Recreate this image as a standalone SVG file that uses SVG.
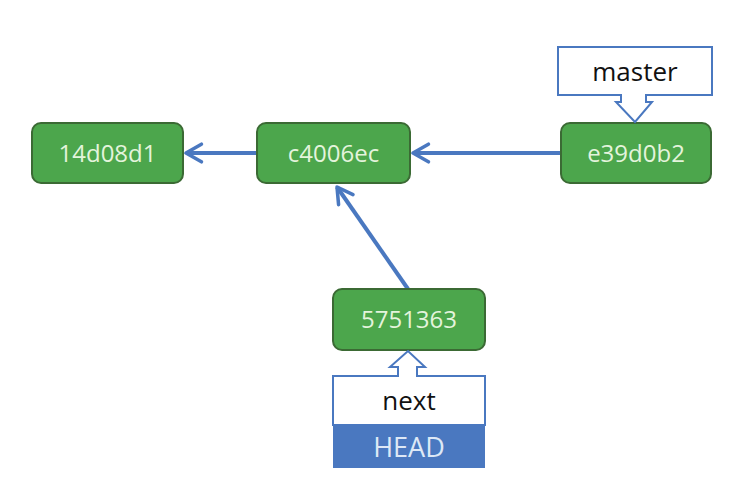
<svg xmlns="http://www.w3.org/2000/svg" width="746" height="498" viewBox="0 0 746 498">
<defs>
<marker id="arr" viewBox="0 0 20 20" refX="17" refY="10" markerWidth="5.5" markerHeight="5.5" orient="auto" markerUnits="strokeWidth">
<path d="M3,2 L17,10 L3,18" fill="none" stroke="#4a78c0" stroke-width="3.2" stroke-linecap="round" stroke-linejoin="round"/>
</marker>
</defs>
<style>
.commit rect{fill:#4ca64c;stroke:#3b6a34;stroke-width:2}
.commit text{fill:#e4f4dc;font-family:"Open Sans","Liberation Sans",sans-serif;font-size:24px;text-anchor:middle}
.conn{stroke:#4a78c0;stroke-width:4;fill:none;marker-end:url(#arr)}
.callout{fill:#fff;stroke:#4a78c0;stroke-width:2}
.lbl{fill:#111;font-family:"Open Sans","Liberation Sans",sans-serif;font-size:26px;text-anchor:middle}
</style>
<rect width="746" height="498" fill="#fff"/>
<g id="connectors">
<line class="conn" x1="257" y1="153" x2="186" y2="153"/>
<line class="conn" x1="561" y1="153" x2="413" y2="153"/>
<line class="conn" x1="408" y1="289" x2="337" y2="187"/>
</g>
<g id="n14d08d1" class="commit"><rect x="32" y="123" width="151" height="60" rx="9"/><text x="107.5" y="162">14d08d1</text></g>
<g id="nc4006ec" class="commit"><rect x="257" y="123" width="153" height="60" rx="9"/><text x="333.5" y="162">c4006ec</text></g>
<g id="ne39d0b2" class="commit"><rect x="561" y="123" width="150" height="60" rx="9"/><text x="636" y="162">e39d0b2</text></g>
<g id="n5751363" class="commit"><rect x="333" y="289" width="152" height="61" rx="9"/><text x="409" y="328">5751363</text></g>
<g id="master">
<path class="callout" d="M558,47 H712 V95 H646 V102 H652 L635,122 L616,102 H621 V95 H558 Z"/>
<text class="lbl" x="635" y="81">master</text>
</g>
<g id="next">
<path class="callout" d="M333,376 H398 V367 H390 L408,351 L425,367 H417 V376 H485 V425 H333 Z"/>
<text class="lbl" x="409" y="410">next</text>
</g>
<g id="head">
<rect x="333" y="425" width="152" height="43" fill="#4a78c0"/>
<text x="409" y="457" fill="#dde8f6" font-family="'Open Sans','Liberation Sans',sans-serif" font-size="27" text-anchor="middle">HEAD</text>
</g>
</svg>
